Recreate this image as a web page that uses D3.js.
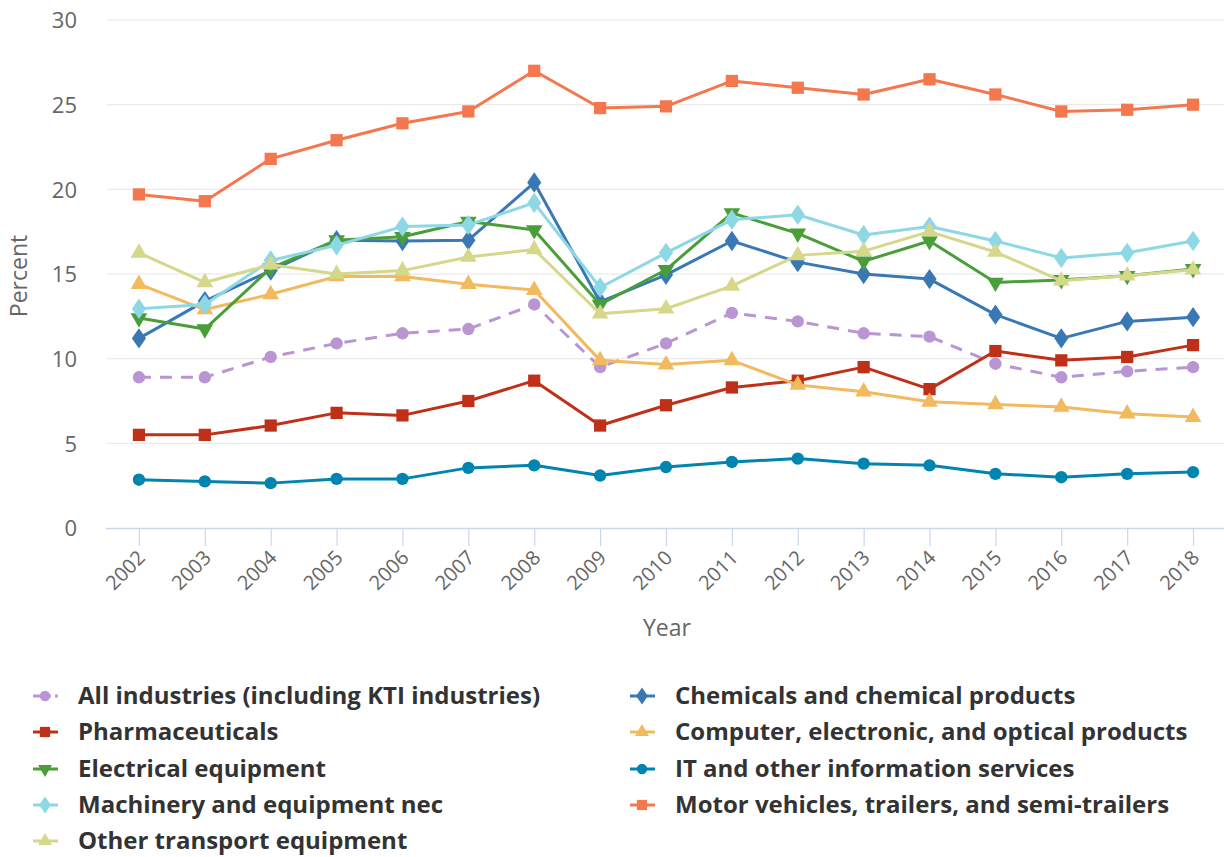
<!DOCTYPE html>
<html><head><meta charset="utf-8">
<script src="https://cdn.jsdelivr.net/npm/d3@7"></script>
<style>
body{margin:0;background:#fff;}
svg{display:block;font-family:"Open Sans",sans-serif;}
</style></head>
<body><svg id="chart" width="1224" height="857"></svg>
<script>
const years = ["2002","2003","2004","2005","2006","2007","2008","2009","2010","2011","2012","2013","2014","2015","2016","2017","2018"];
const yTicks = [0,5,10,15,20,25,30];

const allIndustries = [8.9,8.9,10.1,10.9,11.5,11.75,13.2,9.5,10.9,12.7,12.2,11.5,11.3,9.7,8.9,9.25,9.5];
const chemicals = [11.2,13.4,15.2,17.0,16.95,17.0,20.4,13.35,14.95,16.95,15.7,15.0,14.7,12.6,11.2,12.2,12.45];
const pharmaceuticals = [5.5,5.5,6.05,6.8,6.65,7.5,8.7,6.05,7.25,8.3,8.7,9.5,8.2,10.45,9.9,10.1,10.8];
const computer = [14.4,12.9,13.8,14.85,14.85,14.4,14.05,9.9,9.65,9.9,8.45,8.05,7.45,7.3,7.15,6.75,6.55];
const electrical = [12.4,11.75,15.35,17.0,17.2,18.1,17.6,13.2,15.25,18.6,17.4,15.75,16.95,14.5,14.65,14.9,15.3];
const itServices = [2.85,2.75,2.65,2.9,2.9,3.55,3.7,3.1,3.6,3.9,4.1,3.8,3.7,3.2,3.0,3.2,3.3];
const machinery = [12.95,13.2,15.8,16.7,17.8,17.9,19.2,14.2,16.25,18.2,18.5,17.3,17.8,16.95,15.95,16.25,16.95];
const motorVehicles = [19.7,19.3,21.8,22.9,23.9,24.6,27.0,24.8,24.9,26.4,26.0,25.6,26.5,25.6,24.6,24.7,25.0];
const otherTransport = [16.25,14.5,15.55,15.0,15.2,16.0,16.45,12.65,12.95,14.3,16.1,16.35,17.5,16.3,14.6,14.9,15.25];

const seriesNames = ["All industries (including KTI industries)","Chemicals and chemical products","Pharmaceuticals","Computer, electronic, and optical products","Electrical equipment","IT and other information services","Machinery and equipment nec","Motor vehicles, trailers, and semi-trailers","Other transport equipment"];
const seriesValues = [allIndustries,chemicals,pharmaceuticals,computer,electrical,itServices,machinery,motorVehicles,otherTransport];
const seriesColors = ["#b995d3","#3a78b5","#c03018","#f2b95e","#4a9e3a","#0085b0","#8dd8e4","#f4774d","#d5d78a"];
const seriesSymbols = ["circle","diamond","square","triangle","triangleDown","circle","diamond","square","triangle"];
const seriesDashed = [true,false,false,false,false,false,false,false,false];

const series = seriesNames.map((n,i)=>({name:n,values:seriesValues[i],color:seriesColors[i],symbol:seriesSymbols[i],dashed:seriesDashed[i]}));

const svg = d3.select("#chart");
const pLeft = 106, pRight = 1226, pTop = 20, pBottom = 528;

const x = d3.scalePoint().domain(years).range([pLeft,pRight]).padding(0.5);
const y = d3.scaleLinear().domain([0,30]).range([pBottom,pTop]);

// gridlines
svg.append("g").selectAll("line").data(yTicks.filter(d=>d>0)).join("line")
  .attr("x1",pLeft+1).attr("x2",1224).attr("y1",d=>y(d)).attr("y2",d=>y(d))
  .attr("stroke","#e6e6e6").attr("stroke-width",1);

// y axis labels
const yAxis = d3.axisLeft(y).tickValues(yTicks).tickSize(0).tickPadding(0);
const gy = svg.append("g").attr("transform",`translate(77,0)`).call(yAxis);
gy.select(".domain").remove();
gy.selectAll("text").attr("font-size",22).attr("fill","#666").attr("font-family","'Open Sans',sans-serif").attr("dy","0.35em");

// x axis
const xAxis = d3.axisBottom(x).tickSize(18).tickSizeOuter(0);
const gx = svg.append("g").attr("transform",`translate(0,${pBottom})`).call(xAxis);
gx.select(".domain").attr("stroke","#ccd6eb").attr("stroke-width",1.5).attr("d",`M${pLeft},0.5H1224`);
gx.selectAll(".tick line").attr("stroke","#ccd6eb").attr("stroke-width",1.2);
gx.selectAll(".tick text").attr("font-size",20).attr("fill","#666").attr("font-family","'Open Sans',sans-serif")
  .attr("text-anchor","end").attr("transform","translate(7,31) rotate(-45)").attr("y",0).attr("dy","0");

// axis titles
svg.append("text").attr("x",667).attr("y",636).attr("text-anchor","middle").attr("font-size",23).attr("fill","#666").text("Year");
svg.append("text").attr("transform","translate(27,276) rotate(-90)").attr("text-anchor","middle").attr("font-size",23).attr("fill","#666").text("Percent");

const symbolMap = {circle:d3.symbolCircle,square:d3.symbolSquare,diamond:d3.symbolDiamond,triangle:d3.symbolTriangle,triangleDown:d3.symbolTriangle};
const symbolSize = {circle:120,square:150,diamond:120,triangle:120,triangleDown:120};
function drawSymbol(g,s,cx,cy,k){
  const p = d3.symbol().type(symbolMap[s.symbol]).size(symbolSize[s.symbol]*k)();
  let tr = `translate(${cx},${cy})`;
  if(s.symbol==="triangleDown") tr += " rotate(180)";
  if(s.symbol==="diamond") tr += " scale(1.2,1)";
  g.append("path").attr("d",p).attr("transform",tr).attr("fill",s.color);
}

const line = d3.line().x((d,i)=>x(years[i])).y(d=>y(d));
series.forEach(s=>{
  const g = svg.append("g");
  g.append("path").attr("d",line(s.values)).attr("fill","none").attr("stroke",s.color).attr("stroke-width",3)
    .attr("stroke-linejoin","round").attr("stroke-dasharray",s.dashed?"12,9":null);
  s.values.forEach((v,i)=>drawSymbol(g,s,x(years[i]),y(v),1));
});

// legend
const legRowY = [696,732,769,805,841];
series.forEach((s,i)=>{
  const col = i%2, row = Math.floor(i/2);
  const tx = col===0?78:675, ly = legRowY[row];
  const g = svg.append("g");
  g.append("line").attr("x1",tx-45).attr("x2",tx-20).attr("y1",ly).attr("y2",ly).attr("stroke",s.color).attr("stroke-width",3)
    .attr("stroke-dasharray",s.dashed?"7,4":null);
  drawSymbol(g,s,tx-33,ly,0.7);
  g.append("text").attr("x",tx).attr("y",ly).attr("dy","0.35em").attr("font-size",24).attr("font-weight","bold").attr("fill","#333").text(s.name);
});
</script></body></html>
